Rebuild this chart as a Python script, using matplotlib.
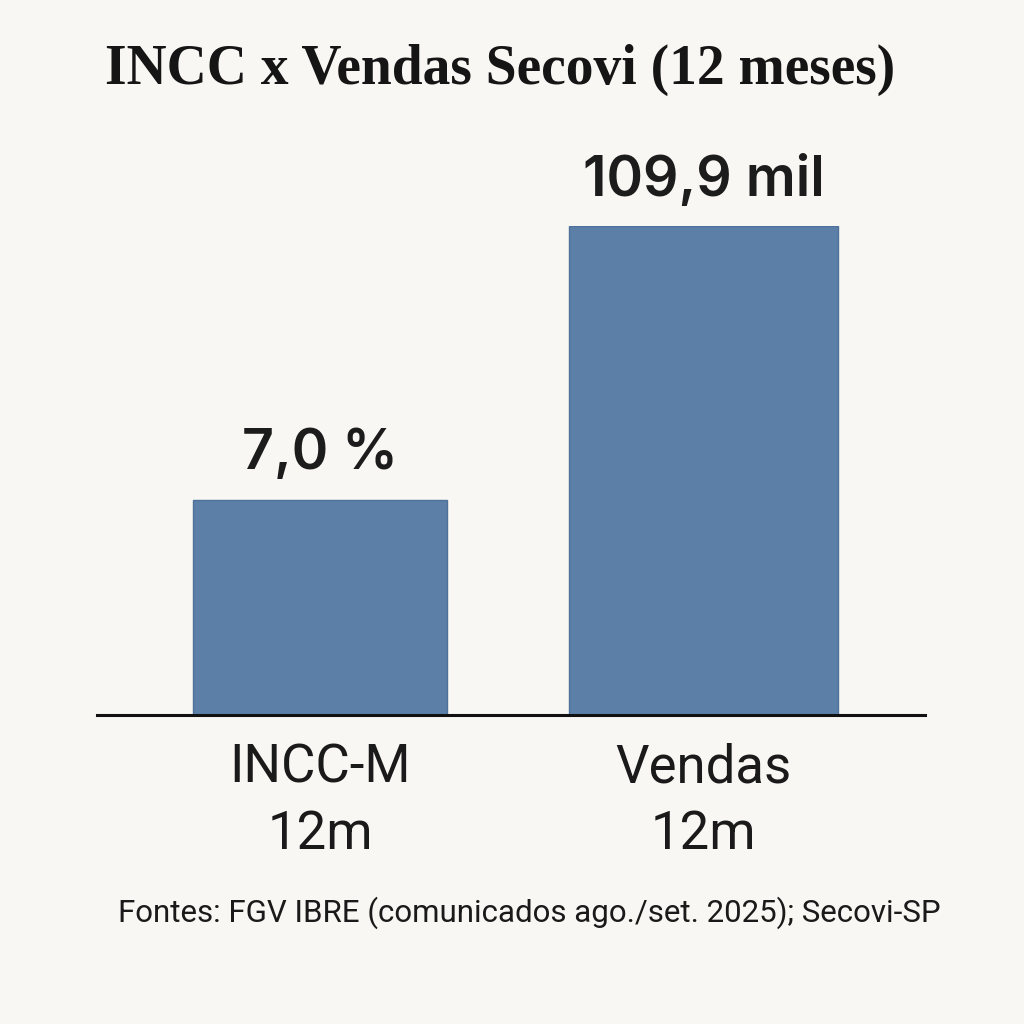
import matplotlib.pyplot as plt

categories = ["INCC-M\n12m", "Vendas\n12m"]
value_labels = ["7,0 %", "109,9 mil"]
# bar heights as drawn in the picture (relative scale, tallest = 100)
bar_heights = [44.0, 100.0]

title = "INCC x Vendas Secovi (12 meses)"
source = "Fontes: FGV IBRE (comunicados ago./set. 2025); Secovi-SP"

bg = "#f9f7f3"
bar_color = "#5b7fa7"

fig = plt.figure(figsize=(10.24, 10.24), dpi=100, facecolor=bg)
ax = fig.add_axes([97 / 1024, 1 - 715 / 1024, 828 / 1024, 489 / 1024])
ax.set_facecolor(bg)

x = [0, 1]
bars = ax.bar(x, bar_heights, width=[0.66, 0.70], color=bar_color,
              edgecolor="#4d719b", linewidth=1.0, zorder=2)
ax.set_xlim(-0.5815, 1.5776)
ax.set_ylim(0, 100)

for b, lab in zip(bars, value_labels):
    ax.annotate(lab, (b.get_x() + b.get_width() / 2, b.get_height()),
                xytext=(0, 14), textcoords="offset points",
                ha="center", va="bottom", fontsize=40, family="Inter",
                fontweight="semibold", color="#1c1c1c")

for s in ("top", "right", "left"):
    ax.spines[s].set_visible(False)
ax.spines["bottom"].set_linewidth(2.2)
ax.spines["bottom"].set_color("#111111")
ax.set_yticks([])
ax.set_xticks(x)
ax.set_xticklabels(categories, fontsize=38, family="Roboto", color="#1a1a1a",
                   linespacing=1.38)
ax.tick_params(axis="x", length=0, pad=20)

fig.text(105 / 1024, 1 - 84 / 1024, title, fontsize=40, family="Liberation Serif",
         fontweight="bold", color="#151515", ha="left", va="baseline")
fig.text(529 / 1024, 1 - 913 / 1024, source, fontsize=22.5, family="Roboto",
         color="#1a1a1a", ha="center", va="center")

plt.savefig("out.png", dpi=100, facecolor=bg)
